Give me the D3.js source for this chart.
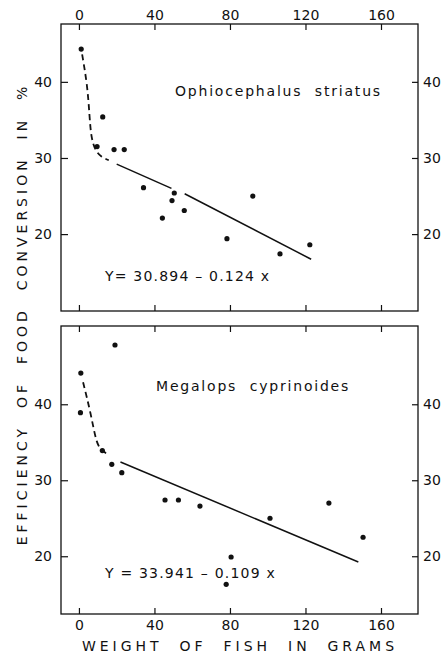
<!DOCTYPE html>
<html>
<head>
<meta charset="utf-8">
<script src="https://cdn.jsdelivr.net/npm/d3@7"></script>
<style>
  body { margin: 0; background: #fff; }
  text { font-family: "DejaVu Sans", sans-serif; fill: #111; }
</style>
</head>
<body>
<script>
// data
var xTicks = [0, 40, 80, 120, 160];
var yTicks = [20, 30, 40];

// Ophiocephalus striatus
var topWeight = [1.2, 12.6, 9.6, 18.6, 24, 34.2, 44.2, 49.3, 50.5, 55.8, 78.4, 92.1, 106.5, 122.3];
var topEff    = [44.3, 35.4, 31.5, 31.1, 31.1, 26.1, 22.1, 24.4, 25.4, 23.1, 19.4, 25.0, 17.4, 18.6];
var topDash = [[1.7, 43.6], [4.5, 39.5], [5.6, 35.5], [6.5, 32.6], [8.8, 30.9], [12, 30.1], [15.8, 29.7]];
var topFit1 = [[20, 29.2], [49, 26.0]];
var topFit2 = [[56, 25.3], [123, 16.7]];
var topLabel = "Ophiocephalus  striatus";
var topEq = "Y= 30.894 \u2013 0.124 x";

// Megalops cyprinoides
var botWeight = [19.1, 1.0, 0.8, 12.4, 17.4, 22.7, 45.6, 52.7, 64.1, 78, 80.6, 101.2, 132.4, 150.5];
var botEff    = [47.8, 44.1, 38.9, 33.9, 32.1, 31.0, 27.4, 27.4, 26.6, 16.3, 19.9, 25.0, 27.0, 22.5];
var botDash = [[2.2, 42.9], [6.3, 38.8], [9.4, 34.6], [12.5, 33.9], [15.6, 33.3]];
var botFit = [[22, 32.4], [148, 19.25]];
var botLabel = "Megalops  cyprinoides";
var botEq = "Y = 33.941 \u2013 0.109 x";

var width = 446, height = 654;

var svg = d3.select('body')
  .append("svg")
    .attr("width", width)
    .attr("height", height);

var x = d3.scaleLinear()
  .domain([-9.5, 179.6])
  .range([61, 418]);

function panel(top, bottom, yDomain, weights, effs, dash, fits, label, labelPos, eq, eqPos, labelsTop) {
  var y = d3.scaleLinear().domain(yDomain).range([bottom, top]);
  var g = svg.append("g");

  g.append("rect")
    .attr("x", 61).attr("y", top)
    .attr("width", 418 - 61).attr("height", bottom - top)
    .attr("fill", "none").attr("stroke", "#111").attr("stroke-width", 1.3);

  g.append("g").attr("transform", "translate(0," + top + ")")
    .call(d3.axisTop(x).tickValues(xTicks).tickSize(-6).tickPadding(4)
      .tickFormat(labelsTop ? d3.format("d") : ""));
  g.append("g").attr("transform", "translate(0," + bottom + ")")
    .call(d3.axisBottom(x).tickValues(xTicks).tickSize(-6).tickPadding(6)
      .tickFormat(labelsTop ? "" : d3.format("d")));
  g.append("g").attr("transform", "translate(61,0)")
    .call(d3.axisLeft(y).tickValues(yTicks).tickSize(-7).tickPadding(9));
  g.append("g").attr("transform", "translate(418,0)")
    .call(d3.axisRight(y).tickValues(yTicks).tickSize(-6).tickPadding(5));

  g.selectAll(".domain").remove();
  g.selectAll(".tick line").attr("stroke", "#111").attr("stroke-width", 1.2);
  g.selectAll(".tick text").attr("font-size", 14).attr("fill", "#111")
    .attr("font-family", "DejaVu Sans, sans-serif");

  var line = d3.line().x(function(d) { return x(d[0]); }).y(function(d) { return y(d[1]); });

  // dashed curve at low weights
  g.append("path")
    .datum(dash)
    .attr("d", line.curve(d3.curveBasis))
    .attr("fill", "none").attr("stroke", "#111").attr("stroke-width", 1.8)
    .attr("stroke-dasharray", "6,4");

  // regression line
  line.curve(d3.curveLinear);
  fits.forEach(function(f) {
    g.append("path")
      .datum(f)
      .attr("d", line)
      .attr("fill", "none").attr("stroke", "#111").attr("stroke-width", 1.5);
  });

  g.selectAll("circle")
    .data(weights)
    .enter()
    .append("circle")
      .attr("cx", function(d) { return x(d); })
      .attr("cy", function(d, i) { return y(effs[i]); })
      .attr("r", 2.6)
      .attr("fill", "#111");

  g.append("text")
    .attr("x", labelPos[0]).attr("y", labelPos[1])
    .attr("font-size", 14).attr("letter-spacing", 1.8)
    .style("white-space", "pre")
    .text(label);

  g.append("text")
    .attr("x", eqPos[0]).attr("y", eqPos[1])
    .attr("font-size", 14).attr("letter-spacing", 1.2)
    .style("white-space", "pre")
    .text(eq);
}

panel(24, 311, [9.9, 47.6], topWeight, topEff, topDash, [topFit1, topFit2],
  topLabel, [175, 96], topEq, [105, 281], true);
panel(326, 614, [12.4, 50.3], botWeight, botEff, botDash, [botFit],
  botLabel, [156, 391], botEq, [105, 578], false);

// axis titles
svg.append("text")
  .attr("x", 240).attr("y", 651)
  .attr("text-anchor", "middle")
  .attr("font-size", 14).attr("letter-spacing", 4)
  .style("white-space", "pre")
  .text("WEIGHT  OF  FISH  IN  GRAMS");

svg.append("text")
  .attr("transform", "translate(27,314) rotate(-90)")
  .attr("text-anchor", "middle")
  .attr("font-size", 14).attr("letter-spacing", 4)
  .style("white-space", "pre")
  .text("EFFICIENCY  OF  FOOD  CONVERSION  IN  %");
</script>
</body>
</html>
